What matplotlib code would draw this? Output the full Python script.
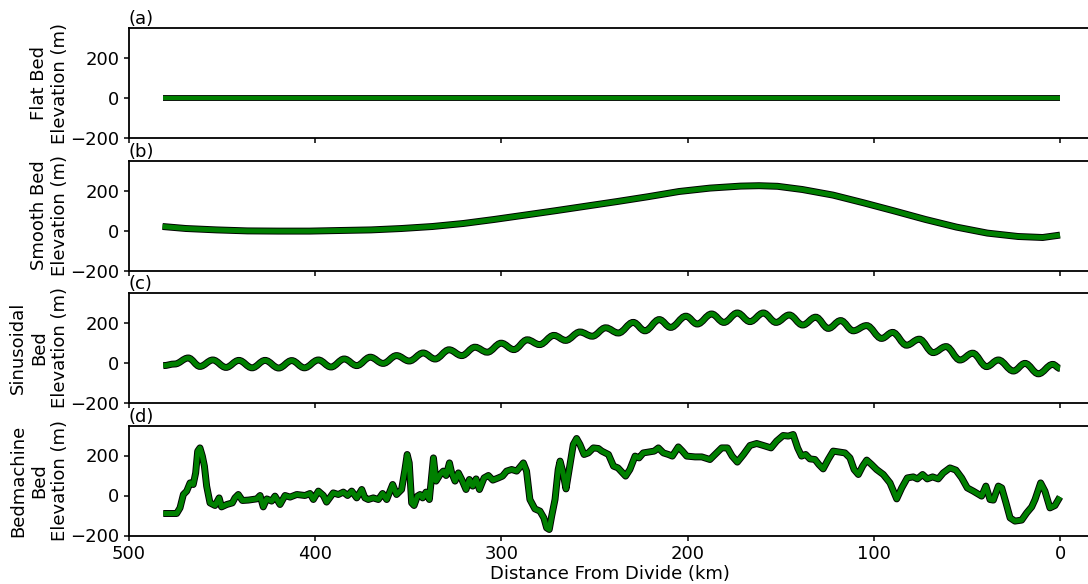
"""Bed profiles along the flowline: flat, smooth, sinusoidal and BedMachine beds."""

import numpy as np
import matplotlib
matplotlib.use('Agg')
import matplotlib.pyplot as plt
from matplotlib.path import Path
from matplotlib.patches import PathPatch

# ---- data (distance from divide in km, bed elevation in m) ----
flat_x = [482, 0]
flat_y = [0, 0]

smooth_x = [482, 469.5, 453, 436.4, 419.9, 403, 386.8, 370, 353.6, 337, 320.5,
            304, 287.4, 270.9, 254.3, 237.7, 221.2, 204.6, 188, 171.5, 161.6,
            151.7, 138.4, 121.9, 105.3, 88.7, 72.2, 55.6, 39, 22.5, 9.3, 0]
smooth_y = [20, 10, 3, -2, -3, -3, 0, 3, 10, 20, 35,
            55, 77, 99, 122, 145, 169, 195, 212, 222, 224,
            221, 205, 177, 138, 97, 55, 17, -13, -30, -35, -23]

# sinusoidal bed: peaks and troughs
sin_x = [481.6, 475.4, 468.2, 461.9, 455.0, 447.9, 441.0, 433.9, 426.9, 419.6,
         412.6, 405.8, 398.3, 391.5, 384.4, 377.7, 370.4, 363.5, 356.3, 349.5,
         342.0, 335.6, 328.1, 321.3, 314.2, 307.6, 300.1, 293.3, 286.1, 279.5,
         271.8, 265.5, 257.8, 251.2, 244.0, 237.2, 229.2, 222.9, 215.2, 209.1,
         200.9, 194.8, 187.1, 180.5, 173.3, 166.5, 159.3, 152.5, 145.4, 138.2,
         131.2, 124.4, 117.8, 111.0, 103.9, 95.8, 89.9, 82.4, 75.6, 68.1,
         61.2, 53.7, 46.9, 39.4, 33.1, 25.0, 18.8, 11.6, 3.9, 0.0]
sin_y = [-13, -5, 25, -17, 15, -22, 13, -24, 13, -25,
         12, -24, 15, -20, 20, -13, 29, -2, 37, 10,
         50, 20, 66, 37, 79, 54, 99, 67, 116, 92,
         138, 113, 155, 134, 176, 150, 203, 161, 217, 178,
         234, 195, 245, 203, 250, 207, 250, 203, 240, 190,
         229, 173, 212, 161, 187, 123, 153, 89, 119, 52,
         82, 15, 49, -18, 15, -40, -2, -54, -7, -27]

bm_x = [481.6, 474.4, 472.6, 470.8, 469.0, 467.2, 465.5, 464.2, 463.1, 461.9,
        460.6, 459.5, 458.3, 456.5, 453.8, 451.6, 450.3, 447.5, 444.5, 443.1,
        441.3, 439.1, 435.9, 431.4, 429.6, 427.9, 426.0, 423.4, 421.6, 418.9,
        416.2, 413.5, 409.9, 405.5, 402.8, 401.0, 398.3, 395.6, 393.9, 390.3,
        387.6, 384.9, 382.6, 380.4, 377.7, 375.0, 373.3, 371.5, 368.8, 366.1,
        363.8, 361.6, 358.4, 356.3, 353.6, 351.8, 350.6, 349.5, 348.2, 346.9,
        345.1, 343.7, 342.3, 340.5, 338.7, 337.4, 336.5, 335.1, 332.9, 331.2,
        329.7, 327.9, 326.7, 324.9, 323.1, 321.3, 319.0, 317.2, 315.4, 313.6,
        311.8, 309.3, 307.0, 304.6, 301.6, 299.4, 297.2, 294.5, 291.8, 288.2,
        286.5, 284.7, 282.0, 279.3, 277.2, 275.7, 274.3, 273.0, 271.2, 269.5,
        268.5, 267.1, 265.3, 263.6, 261.4, 259.6, 257.8, 255.6, 253.3, 250.6,
        247.9, 246.1, 242.5, 239.8, 237.4, 235.8, 233.3, 231.0, 228.2, 226.1,
        223.8, 221.1, 217.9, 215.7, 213.0, 210.3, 208.2, 205.0, 202.8, 200.5,
        196.0, 192.4, 188.0, 185.3, 181.7, 178.6, 176.1, 173.3, 170.0, 166.5,
        162.9, 159.3, 155.2, 152.2, 148.7, 145.9, 143.3, 140.9, 138.8, 136.6,
        134.3, 131.6, 129.5, 127.2, 124.5, 121.8, 118.2, 115.5, 112.8, 110.6,
        108.3, 106.0, 103.8, 101.2, 98.5, 94.9, 91.3, 87.7, 85.0, 82.0,
        78.8, 76.6, 73.8, 71.3, 68.4, 65.4, 62.7, 59.1, 55.9, 52.8,
        49.8, 46.6, 42.1, 39.8, 37.6, 35.8, 33.1, 31.3, 29.0, 26.8,
        24.2, 20.6, 17.9, 15.2, 13.4, 10.4, 8.1, 5.4, 2.7, 0.0]
bm_y = [-90, -90, -62, 5, 22, 63, 55, 113, 222, 238,
        197, 147, 47, -37, -50, -12, -57, -45, -37, -12,
        5, -25, -23, -17, 0, -57, -17, -28, -3, -45,
        0, -8, 5, 0, 10, -20, 22, 0, -33, 13,
        5, 17, 0, 22, -12, 30, -12, -20, -12, -20,
        10, -20, 55, 5, 30, 130, 205, 163, -37, -50,
        -3, 5, -12, 17, -20, 105, 188, 72, 105, 122,
        100, 163, 113, 72, 113, 80, 30, 80, 47, 83,
        30, 88, 100, 77, 88, 97, 122, 130, 122, 163,
        122, -20, -67, -78, -112, -162, -170, -103, -20, 130,
        172, 122, 33, 130, 255, 285, 255, 205, 213, 238,
        235, 222, 205, 147, 138, 122, 97, 130, 197, 188,
        213, 217, 222, 238, 213, 205, 197, 243, 222, 197,
        193, 193, 180, 205, 238, 238, 197, 167, 205, 250,
        260, 250, 238, 272, 300, 297, 305, 238, 197, 205,
        183, 180, 155, 133, 180, 222, 217, 213, 188, 130,
        105, 147, 177, 155, 130, 105, 63, -17, 38, 88,
        93, 83, 105, 83, 93, 83, 113, 138, 127, 88,
        38, 22, -3, 47, -20, -23, 47, 38, -37, -112,
        -128, -123, -87, -57, -20, 63, 22, -62, -50, -7]

panels = [
    ('(a)', 'Flat Bed\nElevation (m)', flat_x, flat_y, False),
    ('(b)', 'Smooth Bed\nElevation (m)', smooth_x, smooth_y, False),
    ('(c)', 'Sinusoidal\nBed\nElevation (m)', sin_x, sin_y, True),
    ('(d)', 'Bedmachine\nBed\nElevation (m)', bm_x, bm_y, False),
]


def extrema_path(x, y):
    # smooth curve through the read extrema (flat tangent at each one)
    verts = [(x[0], y[0])]
    codes = [Path.MOVETO]
    for i in range(len(x) - 1):
        d = (x[i + 1] - x[i]) * 0.364
        verts += [(x[i] + d, y[i]), (x[i + 1] - d, y[i + 1]), (x[i + 1], y[i + 1])]
        codes += [Path.CURVE4] * 3
    return Path(verts, codes)


plt.rcParams['font.size'] = 13

W, H = 1088, 584
fig = plt.figure(figsize=(W / 100, H / 100), dpi=100)

left_px, right_px = 129, 1090
bottoms_px = [138, 270.5, 403, 535.5]
h_px = 110

axes = []
for i, (tag, ylab, x, y, smooth) in enumerate(panels):
    b = bottoms_px[i]
    ax = fig.add_axes([left_px / W, (H - b) / H, (right_px - left_px) / W, h_px / H],
                      sharex=axes[0] if axes else None)
    axes.append(ax)
    lw_k, lw_g = (4.2, 3.0) if i == 0 else (5.0, 3.6)
    if smooth:
        p = extrema_path(x, y)
        ax.add_patch(PathPatch(p, fill=False, edgecolor='black', lw=lw_k, capstyle='butt'))
        ax.add_patch(PathPatch(p, fill=False, edgecolor='green', lw=lw_g, capstyle='butt'))
    else:
        ax.plot(x, y, color='black', lw=lw_k, solid_capstyle='butt')
        ax.plot(x, y, color='green', lw=lw_g, solid_capstyle='butt')
    ax.set_ylim(-200, 350)
    ax.set_yticks([-200, 0, 200])
    ax.set_ylabel(ylab, labelpad=1)
    ax.set_title(tag, loc='left', fontsize=13, pad=2)
    for s in ax.spines.values():
        s.set_linewidth(1.3)
    ax.tick_params(width=1.1)
    if i < 3:
        ax.tick_params(labelbottom=False)

axes[0].set_xlim(500, -(right_px - 1060) / 1.862)
axes[0].set_xticks([500, 400, 300, 200, 100, 0])
axes[-1].set_xlabel('Distance From Divide (km)', labelpad=1)

fig.savefig('out.png', dpi=100)
plt.close(fig)
